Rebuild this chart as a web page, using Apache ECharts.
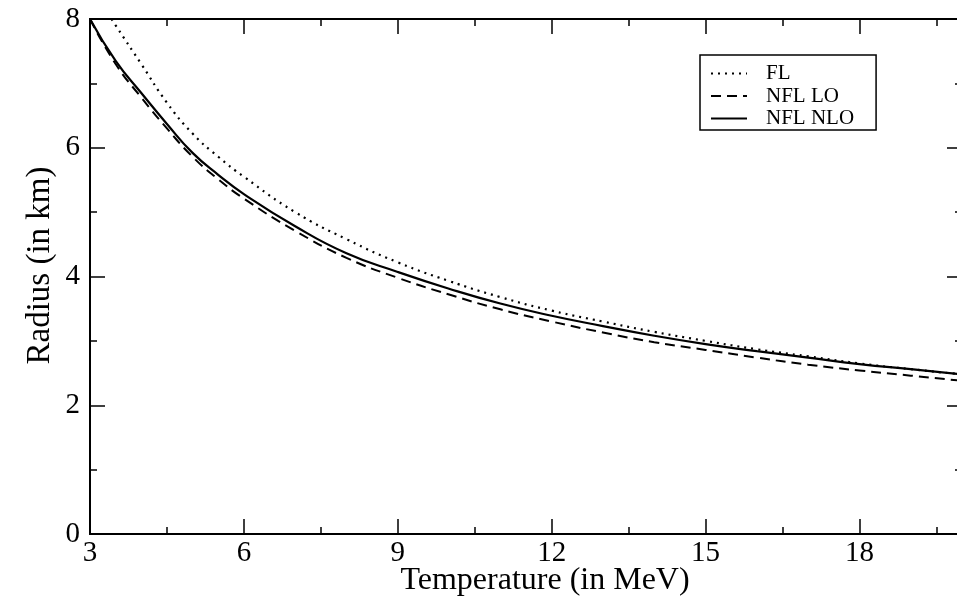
<!DOCTYPE html>
<html><head><meta charset="utf-8">
<script src="https://cdn.jsdelivr.net/npm/echarts@6/dist/echarts.min.js"></script>
<style>html,body{margin:0;padding:0;background:#fff}#c{width:957px;height:598px}</style>
</head><body><div id="c"></div>
<script>
const temperature = [3,3.5,4,4.5,5,5.5,6,7,8,9,10,11,12,13,14,15,16,17,18,19,20];
const nflNloRadius = [8.00,7.35,6.85,6.37,5.92,5.58,5.28,4.78,4.36,4.07,3.81,3.58,3.39,3.23,3.08,2.95,2.84,2.74,2.64,2.56,2.48];
const nflLoRadius  = [8.00,7.30,6.78,6.30,5.86,5.51,5.21,4.71,4.29,3.98,3.72,3.49,3.30,3.13,2.98,2.86,2.74,2.63,2.54,2.46,2.38];
const flTemperature = [3.42,3.5,4,4.5,5,5.5,6,7,8,9,10,11,12,13,14,15,16,17,18,19,20];
const flRadius = [8.00,7.90,7.30,6.70,6.22,5.86,5.55,5.00,4.58,4.22,3.93,3.68,3.47,3.30,3.14,3.00,2.87,2.76,2.65,2.56,2.48];
const xTickLabels = [3,6,9,12,15,18];
const yTickLabels = [0,2,4,6,8];
const seriesNames = ['FL','NFL LO','NFL NLO'];

const FONT = 'Liberation Serif';
const zip = (xs, ys) => xs.map((x, i) => [x, ys[i]]);
const axisLine = {show: true, lineStyle: {color: '#000', width: 2}};

function xAx(pos, interval, tickLen, labels) {
  return {
    type: 'value', position: pos, min: 3, max: 20, interval: interval,
    axisLine: axisLine, splitLine: {show: false},
    axisTick: {show: true, inside: true, length: tickLen, lineStyle: {color: '#000', width: 1.5}},
    axisLabel: labels ? {
      show: true, fontFamily: FONT, fontSize: 29, color: '#000', margin: 5,
      formatter: v => xTickLabels.includes(v) ? String(v) : ''
    } : {show: false},
    name: labels ? 'Temperature (in MeV)' : '',
    nameLocation: 'middle', nameGap: 31, nameMoveOverlap: false,
    nameTextStyle: {fontFamily: FONT, fontSize: 32, color: '#000', padding: [0, 0, 0, 38]}
  };
}
function yAx(pos, labels) {
  return {
    type: 'value', position: pos, min: 0, max: 8, interval: 2,
    axisLine: axisLine, splitLine: {show: false},
    axisTick: {show: true, inside: true, length: 15, lineStyle: {color: '#000', width: 1.5}},
    minorTick: {show: true, splitNumber: 2, length: 7, lineStyle: {color: '#000', width: 1.5}},
    axisLabel: labels ? {
      show: true, fontFamily: FONT, fontSize: 29, color: '#000', margin: 10,
      formatter: v => yTickLabels.includes(v) ? String(v) : ''
    } : {show: false},
    name: labels ? 'Radius (in km)' : '',
    nameLocation: 'middle', nameGap: 33, nameRotate: 90, nameMoveOverlap: false,
    nameTextStyle: {fontFamily: FONT, fontSize: 33, color: '#000', padding: [0, 0, 0, 22]}
  };
}

const chart = echarts.init(document.getElementById('c'), null, {renderer: 'canvas'});
chart.setOption({
  backgroundColor: '#fff',
  animation: false,
  grid: {left: 90, right: -5, top: 19, bottom: 64, containLabel: false, outerBoundsMode: 'none'},
  xAxis: [
    xAx('bottom', 3, 15, true),
    xAx('bottom', 1.5, 7, false),
    xAx('top', 3, 15, false),
    xAx('top', 1.5, 7, false)
  ],
  yAxis: [yAx('left', true), yAx('right', false)],
  legend: {
    orient: 'vertical', left: 700, top: 55,
    data: seriesNames,
    backgroundColor: '#fff', borderColor: '#000', borderWidth: 1.5,
    padding: [8, 22, 1, 10], itemGap: 1.5, itemWidth: 36, itemHeight: 20,
    itemStyle: {color: 'rgba(0,0,0,0)', borderWidth: 0, opacity: 0},
    textStyle: {fontFamily: FONT, fontSize: 21, color: '#000', padding: [0, 0, 0, 14]}
  },
  series: [
    {name: seriesNames[0], type: 'line', data: zip(flTemperature, flRadius), smooth: true,
     showSymbol: false, symbol: 'none', lineStyle: {color: '#000', width: 2.2, type: [2, 5]}, itemStyle: {color: '#000'}},
    {name: seriesNames[1], type: 'line', data: zip(temperature, nflLoRadius), smooth: true,
     showSymbol: false, symbol: 'none', lineStyle: {color: '#000', width: 2, type: [10, 6]}, itemStyle: {color: '#000'}},
    {name: seriesNames[2], type: 'line', data: zip(temperature, nflNloRadius), smooth: true,
     showSymbol: false, symbol: 'none', lineStyle: {color: '#000', width: 2.2, type: 'solid'}, itemStyle: {color: '#000'}}
  ]
});
</script></body></html>
